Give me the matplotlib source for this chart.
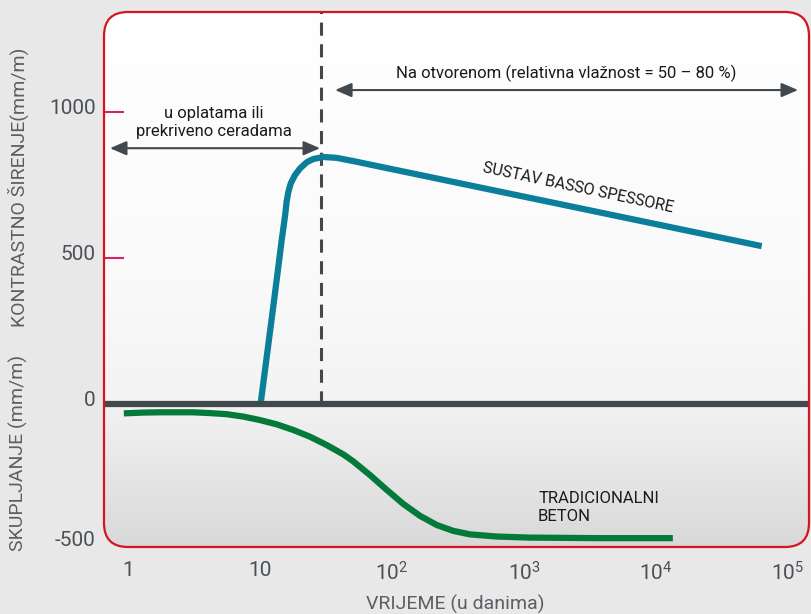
import numpy as np
import matplotlib
matplotlib.use("Agg")
import matplotlib.pyplot as plt
from matplotlib.patches import FancyBboxPatch
from matplotlib.ticker import NullLocator
from matplotlib.transforms import ScaledTranslation

plt.rcParams['font.family'] = ['Roboto', 'DejaVu Sans']
plt.rcParams['mathtext.fontset'] = 'custom'
plt.rcParams['mathtext.rm'] = 'Roboto'

# podaci očitani s grafa
dani_basso = [10.1, 12.6, 14.6, 15.5, 15.9, 16.4, 17.1, 18.4, 20.1, 22.6, 25.3,
              30.2, 38.1, 50.9, 68.1, 63100]
basso_mm = [0, 333, 561, 646, 692, 726, 755, 783, 806, 827, 838,
            845, 842, 831, 819, 540]

dani_beton = [0.93, 1.31, 1.75, 2.34, 3.12, 4.18, 5.59, 7.47, 10.0, 13.4, 17.9,
              23.9, 32.0, 42.8, 50.9, 68.1, 91.2, 122, 163, 218, 291, 390, 621,
              1110, 3560, 13400]
beton_mm = [-35, -32, -31, -31, -31, -34, -38, -47, -60, -76, -97,
            -122, -153, -188, -214, -265, -320, -373, -417, -451, -473, -486, -494,
            -498, -500, -500]

dan_otvaranja = 29
y_ticks = [-500, 0, 500, 1000]
y_tick_labels = ['-500', '0', '500', '1000']
x_ticks = [1, 10, 100, 1000, 10000, 100000]
x_tick_labels = ['1', '10', r'$\mathregular{10^2}$', r'$\mathregular{10^3}$',
                 r'$\mathregular{10^4}$', r'$\mathregular{10^5}$']

PLAVA = '#0b7e99'
ZELENA = '#047a3a'
SIVA = '#41494e'
CRVENA = '#d4161c'
MAGENTA = '#d8206f'

W, H = 811, 614
fig = plt.figure(figsize=(W / 100, H / 100), dpi=100)
fig.patch.set_facecolor('#e8e8e8')

# okvir u pikselima
L, R, T, B = 104, 809, 12, 547
ax = fig.add_axes([L / W, (H - B) / H, (R - L) / W, (B - T) / H])
ax.set_facecolor('none')
for s in ax.spines.values():
    s.set_visible(False)

# skala: ispod nule je graf malo stisnut
K = 0.918
ax.set_yscale('function', functions=(lambda y: np.where(y < 0, y * K, y),
                                     lambda v: np.where(v < 0, v / K, v)))
ax.set_xscale('log')
ax.set_xlim(0.658, 144000)
ax.set_ylim(-533, 1341)

# zaobljeni okvir + gradijent
okvir = FancyBboxPatch((L / W, (H - B) / H), (R - L) / W, (B - T) / H,
                       boxstyle='round,pad=0,rounding_size=%f' % (24 / W),
                       mutation_aspect=W / H, transform=fig.transFigure,
                       facecolor='none', edgecolor=CRVENA, lw=1.6, zorder=10)
fig.add_artist(okvir)

t = np.linspace(0, 1, 256)
stops = [0, 0.5, 0.73, 1]
grad = np.stack([np.interp(t, stops, [1.0, 0.98, 0.953, 0.85])] * 3, axis=-1)[:, None, :]
im = ax.imshow(grad, extent=[0, 1, 0, 1], transform=ax.transAxes, aspect='auto',
               zorder=0, interpolation='bilinear')
im.set_clip_path(okvir)

# linije
ax.vlines(dan_otvaranja, 0, 1341, colors=SIVA, lw=2.2, linestyles=(0, (4.3, 2.8)), zorder=2)
ax.plot(dani_beton, beton_mm, color=ZELENA, lw=4.5, solid_joinstyle='round',
        solid_capstyle='butt', zorder=3)
ax.plot(dani_basso, basso_mm, color=PLAVA, lw=4.5, solid_joinstyle='round',
        solid_capstyle='butt', zorder=3)
ax.axhline(0, color=SIVA, lw=4.5, zorder=4)

# osi
ax.set_yticks(y_ticks)
ax.set_yticklabels(y_tick_labels)
ax.tick_params(axis='y', direction='in', length=14.4, width=1.5, color=MAGENTA,
               pad=6, labelsize=15, labelcolor='#4a5055')
for tk in ax.yaxis.get_major_ticks()[:2]:
    tk.tick1line.set_visible(False)
for lbl in ax.get_yticklabels()[1:]:
    lbl.set_transform(lbl.get_transform() + ScaledTranslation(0, 5 / 100, fig.dpi_scale_trans))

ax.set_xticks(x_ticks)
ax.set_xticklabels(x_tick_labels)
ax.xaxis.set_minor_locator(NullLocator())
ax.tick_params(axis='x', length=0, pad=10, labelsize=15, labelcolor='#4a5055')

fig.text(455 / W, 1 - 604 / H, 'VRIJEME (u danima)', ha='center', va='center',
         fontsize=14, color='#5a5f63')
fig.text(18 / W, 1 - 187 / H, 'KONTRASTNO ŠIRENJE(mm/m)', rotation=90,
         ha='center', va='center', fontsize=14, color='#5a5f63')
fig.text(18 / W, 1 - 453 / H, 'SKUPLJANJE (mm/m)', rotation=90,
         ha='center', va='center', fontsize=14, color='#5a5f63')

# strelice i natpisi
arrow = dict(arrowstyle='<|-|>,head_length=1.0,head_width=0.43', color=SIVA,
             lw=1.5, shrinkA=0, shrinkB=0, mutation_scale=10)
ax.annotate('', xy=(28.5, 875), xytext=(0.73, 875), arrowprops=arrow, zorder=5)
ax.annotate('', xy=(119000, 1074), xytext=(37, 1074), arrowprops=arrow, zorder=5)

ax.text(4.48, 963, 'u oplatama ili\nprekriveno ceradama', ha='center', va='center',
        fontsize=12, color='#1a1a1a', linespacing=1.25)
ax.text(2080, 1132, 'Na otvorenom (relativna vlažnost = 50 – 80 %)', ha='center',
        va='center', fontsize=12, color='#1a1a1a')
ax.text(2570, 739, 'SUSTAV BASSO SPESSORE', ha='center', va='center', fontsize=11.5,
        color='#1a1a1a', rotation=-12, rotation_mode='anchor')
ax.text(1277, -386, 'TRADICIONALNI\nBETON', ha='left', va='center', fontsize=12,
        color='#1a1a1a', linespacing=1.3)

fig.savefig('out.png', dpi=100, facecolor=fig.get_facecolor())
